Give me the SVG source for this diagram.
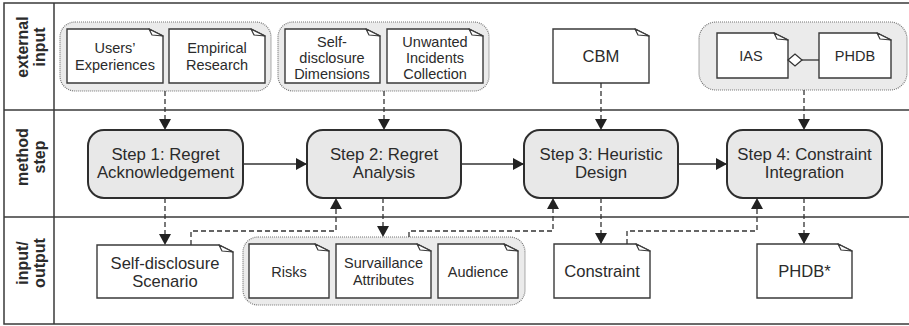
<svg xmlns="http://www.w3.org/2000/svg" width="909" height="326" viewBox="0 0 909 326">
<style>
text{font-family:"Liberation Sans",Arial,sans-serif;fill:#2b2b2b;text-anchor:middle}
.lane{font-size:16px;font-weight:bold}
.step{font-size:16.8px}
.sm{font-size:14.5px}
.lg{font-size:16.6px}
.frame{fill:none;stroke:#3a3a3a;stroke-width:1.5}
.grp{fill:#ebebeb;stroke:#777;stroke-width:1.2;stroke-dasharray:1 1}
.stepbox{fill:#e8e8e8;stroke:#2e2e2e;stroke-width:2}
.note{fill:#fff;stroke:#3a3a3a;stroke-width:1.4}
.fold{fill:#fff;stroke:#3a3a3a;stroke-width:1.2;stroke-linejoin:round}
.dash{fill:none;stroke:#333;stroke-width:1.3;stroke-dasharray:5 3;marker-end:url(#ah)}
.solid{fill:none;stroke:#333;stroke-width:1.3;marker-end:url(#ah)}
</style>
<defs>
<marker id="ah" markerUnits="userSpaceOnUse" markerWidth="12" markerHeight="12" refX="11" refY="6" orient="auto">
<path d="M0,0 L11,6 L0,12 Z" fill="#222"/>
</marker>
</defs>
<rect width="909" height="326" fill="#fff"/>
<g id="frame">
<rect class="frame" x="4" y="3" width="908" height="321"/>
<line class="frame" x1="54" y1="3" x2="54" y2="324"/>
<line class="frame" x1="4" y1="110" x2="909" y2="110"/>
<line class="frame" x1="4" y1="217" x2="909" y2="217"/>
<text class="lane" transform="translate(28,47) rotate(-90)">external</text>
<text class="lane" transform="translate(45,47) rotate(-90)">input</text>
<text class="lane" transform="translate(28,157) rotate(-90)">method</text>
<text class="lane" transform="translate(45,157) rotate(-90)">step</text>
<text class="lane" transform="translate(28,263) rotate(-90)">input/</text>
<text class="lane" transform="translate(45,263) rotate(-90)">output</text>
</g>
<g id="group1">
<rect class="grp" x="60" y="22" width="211" height="69" rx="15"/>
<g id="users-experiences">
<path class="note" d="M67,29 H149 L163,36 V83 H67 Z"/><path class="fold" d="M149,29 L152,35 L163,36 Z"/>
<text class="sm" x="115" y="53">Users’</text><text class="sm" x="115" y="70">Experiences</text>
</g>
<g id="empirical-research">
<path class="note" d="M169,29 H251 L265,36 V83 H169 Z"/><path class="fold" d="M251,29 L254,35 L265,36 Z"/>
<text class="sm" x="217" y="53">Empirical</text><text class="sm" x="217" y="70">Research</text>
</g>
</g>
<g id="group2">
<rect class="grp" x="278" y="22" width="211" height="69" rx="15"/>
<g id="self-disclosure-dimensions">
<path class="note" d="M285,29 H366 L380,36 V83 H285 Z"/><path class="fold" d="M366,29 L369,35 L380,36 Z"/>
<text class="sm" x="332" y="47">Self-</text><text class="sm" x="332" y="63">disclosure</text><text class="sm" x="332" y="79">Dimensions</text>
</g>
<g id="unwanted-incidents">
<path class="note" d="M387,29 H469 L483,36 V83 H387 Z"/><path class="fold" d="M469,29 L472,35 L483,36 Z"/>
<text class="sm" x="435" y="47">Unwanted</text><text class="sm" x="435" y="63">Incidents</text><text class="sm" x="435" y="79">Collection</text>
</g>
</g>
<g id="cbm">
<path class="note" d="M553,29 H635 L649,36 V83 H553 Z"/><path class="fold" d="M635,29 L638,35 L649,36 Z"/>
<text class="lg" x="601" y="62">CBM</text>
</g>
<g id="group4">
<rect class="grp" x="699" y="22" width="208" height="68" rx="17"/>
<g id="ias">
<path class="note" d="M717,33 H774 L788,40 V78 H717 Z"/><path class="fold" d="M774,33 L777,39 L788,40 Z"/>
<text class="sm" x="751" y="61">IAS</text>
</g>
<g id="phdb">
<path class="note" d="M819,33 H877 L891,40 V78 H819 Z"/><path class="fold" d="M877,33 L880,39 L891,40 Z"/>
<text class="sm" x="855" y="61">PHDB</text>
</g>
<line x1="802" y1="60" x2="819" y2="60" stroke="#333" stroke-width="1.3"/>
<path d="M788,60 L795,54 L802,60 L795,66 Z" fill="#fff" stroke="#333" stroke-width="1.3"/>
</g>
<g id="step1">
<rect class="stepbox" x="88" y="130" width="155" height="68" rx="16"/>
<text class="step" x="165.5" y="160">Step 1: Regret</text><text class="step" x="165.5" y="178">Acknowledgement</text>
</g>
<g id="step2">
<rect class="stepbox" x="307" y="130" width="154" height="68" rx="16"/>
<text class="step" x="384" y="160">Step 2: Regret</text><text class="step" x="384" y="178">Analysis</text>
</g>
<g id="step3">
<rect class="stepbox" x="524" y="130" width="154" height="68" rx="16"/>
<text class="step" x="601" y="160">Step 3: Heuristic</text><text class="step" x="601" y="178">Design</text>
</g>
<g id="step4">
<rect class="stepbox" x="727" y="130" width="155" height="68" rx="16"/>
<text class="step" x="804.5" y="160">Step 4: Constraint</text><text class="step" x="804.5" y="178">Integration</text>
</g>
<g id="scenario">
<path class="note" d="M97,245 H219 L233,252 V298 H97 Z"/><path class="fold" d="M219,245 L222,251 L233,252 Z"/>
<text class="lg" x="165" y="269">Self-disclosure</text><text class="lg" x="165" y="287">Scenario</text>
</g>
<g id="group3">
<rect class="grp" x="243" y="237" width="282" height="68" rx="15"/>
<g id="risks">
<path class="note" d="M249,244 H315 L329,251 V298 H249 Z"/><path class="fold" d="M315,244 L318,250 L329,251 Z"/>
<text class="sm" x="289" y="277">Risks</text>
</g>
<g id="survaillance">
<path class="note" d="M336,244 H417 L431,251 V298 H336 Z"/><path class="fold" d="M417,244 L420,250 L431,251 Z"/>
<text class="sm" x="383.5" y="268">Survaillance</text><text class="sm" x="383.5" y="285">Attributes</text>
</g>
<g id="audience">
<path class="note" d="M438,244 H504 L518,251 V298 H438 Z"/><path class="fold" d="M504,244 L507,250 L518,251 Z"/>
<text class="sm" x="478" y="277">Audience</text>
</g>
</g>
<g id="constraint">
<path class="note" d="M554,244 H636 L650,251 V298 H554 Z"/><path class="fold" d="M636,244 L639,250 L650,251 Z"/>
<text class="lg" x="602" y="277">Constraint</text>
</g>
<g id="phdb-star">
<path class="note" d="M757,244 H838 L852,251 V298 H757 Z"/><path class="fold" d="M838,244 L841,250 L852,251 Z"/>
<text class="lg" x="804.5" y="277">PHDB*</text>
</g>
<g id="connectors">
<path class="dash" d="M165,91 V130"/>
<path class="dash" d="M384,91 V130"/>
<path class="dash" d="M601,83 V130"/>
<path class="dash" d="M804,90 V130"/>
<path class="solid" d="M243,164 H307"/>
<path class="solid" d="M461,164 H524"/>
<path class="solid" d="M678,164 H727"/>
<path class="dash" d="M165,198 V245"/>
<path class="dash" d="M191,245 V231 H336 V198"/>
<path class="dash" d="M383,198 V237"/>
<path class="dash" d="M409,237 V231 H553 V198"/>
<path class="dash" d="M601,198 V244"/>
<path class="dash" d="M627,244 V231 H757 V198"/>
<path class="dash" d="M804,198 V244"/>
</g>
</svg>
